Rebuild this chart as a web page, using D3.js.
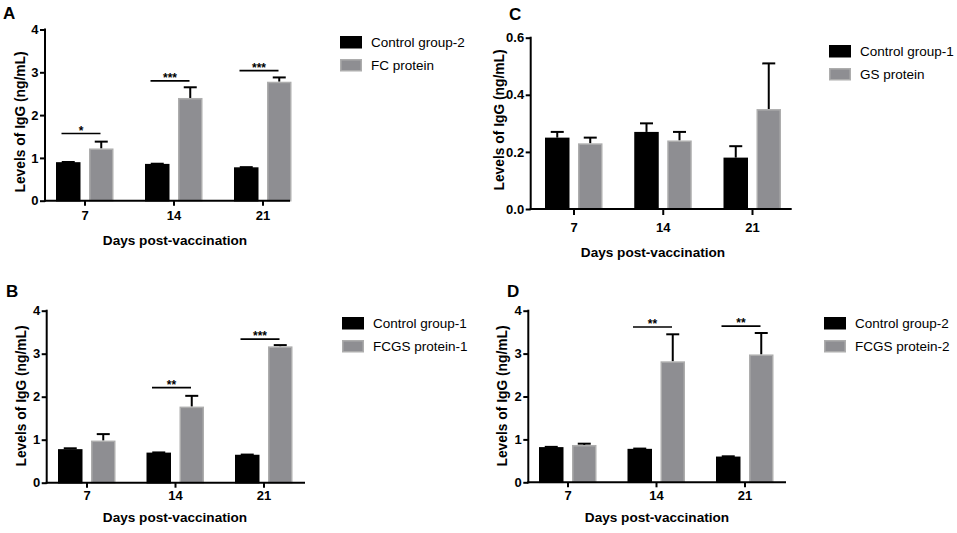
<!DOCTYPE html>
<html>
<head>
<meta charset="utf-8">
<script src="https://cdn.jsdelivr.net/npm/d3@7"></script>
<style>
  body { margin: 0; background: #fff; }
  svg { font-family: "Liberation Sans", Arial, sans-serif; }
</style>
</head>
<body>
<svg id="chart" width="957" height="533"></svg>
<script>
// x categories
const days = ["7", "14", "21"];

// panel A
const aControl = [0.90, 0.86, 0.78];
const aControlErr = [0.004, 0.004, 0.004];
const aProtein = [1.22, 2.40, 2.78];
const aProteinErr = [0.16, 0.25, 0.10];
const aLegend = ["Control group-2", "FC protein"];
const aSigDay = ["7", "14", "21"];
const aSigLevel = [1.57, 2.80, 3.04];
const aSigText = ["*", "***", "***"];

// panel B
const bControl = [0.78, 0.70, 0.65];
const bControlErr = [0.02, 0.004, 0.004];
const bProtein = [0.98, 1.77, 3.17];
const bProteinErr = [0.15, 0.25, 0.03];
const bLegend = ["Control group-1", "FCGS protein-1"];
const bSigDay = ["14", "21"];
const bSigLevel = [2.21, 3.34];
const bSigText = ["**", "***"];

// panel C
const cControl = [0.25, 0.27, 0.18];
const cControlErr = [0.02, 0.03, 0.04];
const cProtein = [0.23, 0.24, 0.35];
const cProteinErr = [0.02, 0.03, 0.16];
const cLegend = ["Control group-1", "GS protein"];

// panel D
const dControl = [0.82, 0.78, 0.60];
const dControlErr = [0.006, 0.006, 0.006];
const dProtein = [0.87, 2.82, 2.98];
const dProteinErr = [0.03, 0.63, 0.50];
const dLegend = ["Control group-2", "FCGS protein-2"];
const dSigDay = ["14", "21"];
const dSigLevel = [3.62, 3.64];
const dSigText = ["**", "**"];

// y ticks
const ticksIgG = [0, 1, 2, 3, 4];
const ticksSmall = [0.0, 0.2, 0.4, 0.6];

const yTitle = "Levels of IgG (ng/mL)";
const xTitle = "Days post-vaccination";

const gray = "#8e8e92";
const grayEdge = "#adadad";

const svg = d3.select("#chart");

function drawPanel(p) {
  const g = svg.append("g");

  const x = d3.scalePoint().domain(days).range([p.c0, p.c2]);
  const y = d3.scaleLinear().domain([0, p.ymax]).range([p.y0, p.yTop]);

  const barW = 24.5;
  const series = [
    { vals: p.control, err: p.controlErr, dx: -28.5, fill: "#000", edge: "#000" },
    { vals: p.protein, err: p.proteinErr, dx: 4.5, fill: gray, edge: grayEdge }
  ];

  series.forEach(s => {
    const grp = g.append("g");
    // error bars (upper only) drawn first
    grp.selectAll("line.err")
      .data(days)
      .enter()
      .append("line")
      .attr("x1", (d, i) => x(d) + s.dx + barW / 2)
      .attr("x2", (d, i) => x(d) + s.dx + barW / 2)
      .attr("y1", (d, i) => y(s.vals[i]))
      .attr("y2", (d, i) => y(s.vals[i] + s.err[i]))
      .attr("stroke", "#000")
      .attr("stroke-width", 2);
    grp.selectAll("line.cap")
      .data(days)
      .enter()
      .append("line")
      .attr("x1", (d, i) => x(d) + s.dx + barW / 2 - 6.5)
      .attr("x2", (d, i) => x(d) + s.dx + barW / 2 + 6.5)
      .attr("y1", (d, i) => y(s.vals[i] + s.err[i]))
      .attr("y2", (d, i) => y(s.vals[i] + s.err[i]))
      .attr("stroke", "#000")
      .attr("stroke-width", 2);
    grp.selectAll("rect")
      .data(days)
      .enter()
      .append("rect")
      .attr("x", d => x(d) + s.dx + 0.75)
      .attr("y", (d, i) => y(s.vals[i]) + 0.75)
      .attr("width", barW - 1.5)
      .attr("height", (d, i) => y(0) - y(s.vals[i]) - 0.75)
      .attr("fill", s.fill)
      .attr("stroke", s.edge)
      .attr("stroke-width", 1.5);
  });

  // y axis
  const yAxis = g.append("g")
    .attr("transform", "translate(" + p.xL + ",0)")
    .call(d3.axisLeft(y).tickValues(p.ticks).tickFormat(p.fmt)
      .tickSize(5).tickPadding(1.5).tickSizeOuter(0));
  yAxis.select(".domain").remove();
  yAxis.append("line")
    .attr("x1", 0).attr("x2", 0)
    .attr("y1", p.yTop - 1).attr("y2", p.y0 + 1)
    .attr("stroke", "#000").attr("stroke-width", 2);

  // x axis
  const xAxis = g.append("g")
    .attr("transform", "translate(0," + p.y0 + ")")
    .call(d3.axisBottom(x).tickSize(p.xTick).tickPadding(p.xPad));
  xAxis.select(".domain").remove();
  xAxis.append("line")
    .attr("x1", p.xL - 1).attr("x2", p.xR)
    .attr("y1", 0).attr("y2", 0)
    .attr("stroke", "#000").attr("stroke-width", 2);

  [yAxis, xAxis].forEach(a => {
    a.selectAll(".tick line").attr("stroke-width", 2);
    a.selectAll(".tick text")
      .attr("font-size", 13).attr("font-weight", "bold")
      .attr("font-family", "Liberation Sans, Arial, sans-serif")
      .attr("fill", "#000");
  });

  // significance bars
  if (p.sigDay) {
    p.sigDay.forEach((d, i) => {
      g.append("line")
        .attr("x1", x(d) - 23).attr("x2", x(d) + 16)
        .attr("y1", y(p.sigLevel[i])).attr("y2", y(p.sigLevel[i]))
        .attr("stroke", "#000").attr("stroke-width", 1.6);
      g.append("text")
        .attr("x", x(d) - 3.5)
        .attr("y", y(p.sigLevel[i]) + 1)
        .attr("text-anchor", "middle")
        .attr("font-size", 12).attr("font-weight", "bold")
        .text(p.sigText[i]);
    });
  }

  // axis titles
  g.append("text")
    .attr("x", p.xtX).attr("y", p.xtY)
    .attr("text-anchor", "middle")
    .attr("font-size", 13.6).attr("font-weight", "bold")
    .text(xTitle);
  g.append("text")
    .attr("transform", "translate(" + p.ytX + "," + p.ytY + ") rotate(-90)")
    .attr("text-anchor", "middle")
    .attr("font-size", 13.8).attr("font-weight", "bold")
    .text(yTitle);

  // panel letter
  g.append("text")
    .attr("x", p.lx).attr("y", p.ly)
    .attr("font-size", 17).attr("font-weight", "bold")
    .text(p.letter);

  // legend
  const fills = ["#000", gray];
  const edges = ["#000", grayEdge];
  p.legend.forEach((t, i) => {
    g.append("rect")
      .attr("x", p.legX + 0.75).attr("y", p.legY + i * 23 + 0.75)
      .attr("width", 20.5).attr("height", 11)
      .attr("fill", fills[i]).attr("stroke", edges[i]).attr("stroke-width", 1.5);
    g.append("text")
      .attr("x", p.legX + 31).attr("y", p.legY + i * 23 + 6)
      .attr("dy", "0.35em")
      .attr("font-size", 13.5)
      .text(t);
  });
}

const fmtInt = d3.format("d");
const fmt1 = d3.format(".1f");

drawPanel({
  letter: "A", lx: 3, ly: 19,
  control: aControl, controlErr: aControlErr, protein: aProtein, proteinErr: aProteinErr,
  legend: aLegend, sigDay: aSigDay, sigLevel: aSigLevel, sigText: aSigText,
  ymax: 4, ticks: ticksIgG, fmt: fmtInt,
  c0: 84.5, c2: 262.5, xL: 45, xR: 290, y0: 200.7, yTop: 29.5,
  xTick: 5, xPad: 5, xtX: 175, xtY: 245, ytX: 25, ytY: 122,
  legX: 340, legY: 36
});

drawPanel({
  letter: "B", lx: 6, ly: 297,
  control: bControl, controlErr: bControlErr, protein: bProtein, proteinErr: bProteinErr,
  legend: bLegend, sigDay: bSigDay, sigLevel: bSigLevel, sigText: bSigText,
  ymax: 4, ticks: ticksIgG, fmt: fmtInt,
  c0: 86.5, c2: 263.5, xL: 46.7, xR: 305, y0: 482.7, yTop: 310.7,
  xTick: 5, xPad: 3, xtX: 175, xtY: 522, ytX: 26, ytY: 396,
  legX: 342, legY: 317
});

drawPanel({
  letter: "C", lx: 509, ly: 20,
  control: cControl, controlErr: cControlErr, protein: cProtein, proteinErr: cProteinErr,
  legend: cLegend,
  ymax: 0.6, ticks: ticksSmall, fmt: fmt1,
  c0: 573.5, c2: 752, xL: 530.7, xR: 791.7, y0: 209, yTop: 37.7,
  xTick: 6, xPad: 8, xtX: 653, xtY: 257, ytX: 504, ytY: 120,
  legX: 829, legY: 45
});

drawPanel({
  letter: "D", lx: 507, ly: 297,
  control: dControl, controlErr: dControlErr, protein: dProtein, proteinErr: dProteinErr,
  legend: dLegend, sigDay: dSigDay, sigLevel: dSigLevel, sigText: dSigText,
  ymax: 4, ticks: ticksIgG, fmt: fmtInt,
  c0: 567.5, c2: 744.5, xL: 528.3, xR: 786, y0: 482.3, yTop: 310.7,
  xTick: 5, xPad: 3, xtX: 657, xtY: 522, ytX: 507, ytY: 396,
  legX: 824, legY: 317
});
</script>
</body>
</html>
